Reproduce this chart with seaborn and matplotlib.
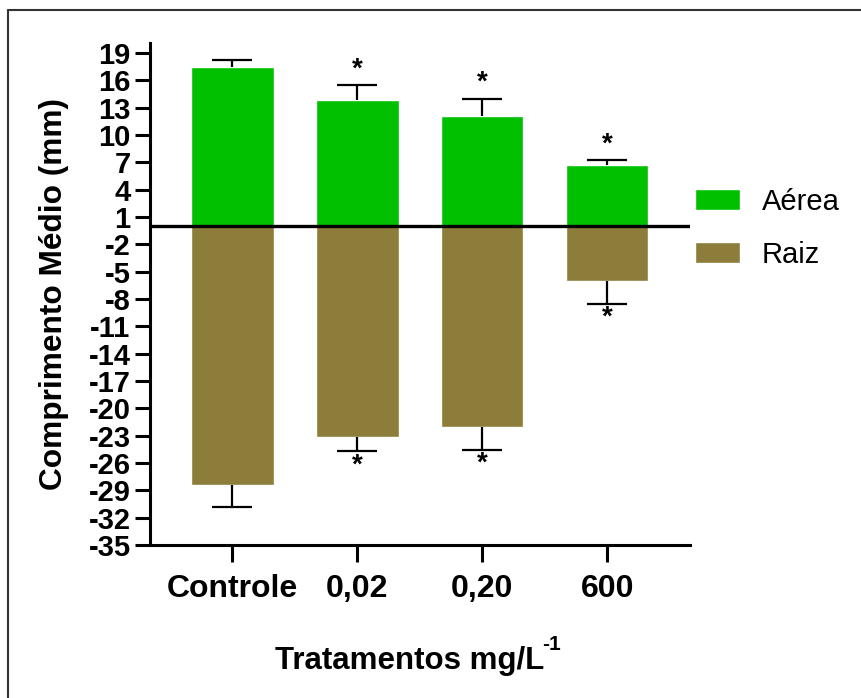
import numpy as np
import pandas as pd
import seaborn as sns
import matplotlib
matplotlib.use("Agg")
import matplotlib.pyplot as plt
from matplotlib.lines import Line2D
from matplotlib.patches import Patch

tratamentos = ["Controle", "0,02", "0,20", "600"]
aerea = [17.5, 13.9, 12.1, 6.75]
aerea_erro = [0.7, 1.6, 1.9, 0.5]
raiz = [-28.4, -23.15, -22.05, -6.0]
raiz_erro = [2.4, 1.55, 2.5, 2.5]
signif_aerea = ["", "*", "*", "*"]
signif_raiz = ["", "*", "*", "*"]

verde = "#00c000"
marrom = "#8c7d3a"

df = pd.DataFrame({
    "Tratamento": tratamentos * 2,
    "Valor": aerea + raiz,
    "Parte": ["Aérea"] * 4 + ["Raiz"] * 4,
})

sns.set_style("white")
plt.rcParams["font.family"] = ["Liberation Sans", "DejaVu Sans"]
plt.rcParams["text.color"] = "black"
plt.rcParams["axes.labelcolor"] = "black"
plt.rcParams["xtick.color"] = "black"
plt.rcParams["ytick.color"] = "black"

fig = plt.figure(figsize=(8.62, 6.98), dpi=100)
ax = fig.add_axes([0.174, 0.219, 0.626, 0.719])

sns.barplot(data=df, x="Tratamento", y="Valor", hue="Parte", order=tratamentos,
            palette={"Aérea": verde, "Raiz": marrom}, dodge=False, width=0.66,
            saturation=1, errorbar=None, legend=False, ax=ax)

# barras de erro só para fora
xs = np.arange(len(tratamentos))
topo = np.array(aerea) + np.array(aerea_erro)
fundo = np.array(raiz) - np.array(raiz_erro)
cap = 0.16
ax.vlines(xs, aerea, topo, color="black", lw=1.6, zorder=3)
ax.hlines(topo, xs - cap, xs + cap, color="black", lw=1.6, zorder=3)
ax.vlines(xs, raiz, fundo, color="black", lw=1.6, zorder=3)
ax.hlines(fundo, xs - cap, xs + cap, color="black", lw=1.6, zorder=3)

for i in range(4):
    if signif_aerea[i]:
        ax.text(xs[i], topo[i] + 0.3, signif_aerea[i], ha="center",
                va="bottom", fontsize=20, fontweight="bold")
    if signif_raiz[i]:
        ax.text(xs[i], fundo[i] - 0.1, signif_raiz[i], ha="center",
                va="top", fontsize=20, fontweight="bold")

ax.axhline(0, color="black", lw=2.4, zorder=4)

ax.set_xlim(-0.66, 3.66)
ax.set_ylim(-35, 20.07)
ax.set_yticks(np.arange(-35, 20, 3))
ax.set_yticklabels([str(v) for v in np.arange(-35, 20, 3)], fontsize=21, fontweight="bold")
ax.set_xticks(xs)
ax.set_xticklabels(tratamentos, fontsize=23, fontweight="bold")

for s in ["top", "right"]:
    ax.spines[s].set_visible(False)
for s in ["left", "bottom"]:
    ax.spines[s].set_linewidth(2.2)
    ax.spines[s].set_color("black")
ax.tick_params(axis="y", length=11, width=2.2, pad=3, left=True)
ax.tick_params(axis="x", length=12, width=2.2, pad=9, bottom=True)

ax.set_xlabel("Tratamentos mg/L", fontsize=22.5, fontweight="bold", labelpad=30)
ax.xaxis.label.set_x(0.5 - 10 / 540)
ax.set_ylabel("Comprimento Médio (mm)", fontsize=22.8, fontweight="bold", labelpad=14)

fig.canvas.draw()
bb = ax.xaxis.label.get_window_extent(fig.canvas.get_renderer())
fig.text((bb.x1 - 2) / 862, (698 - 650) / 698, "-1", fontsize=15, fontweight="bold",
         ha="left", va="baseline")

handles = [Patch(facecolor=verde, label="Aérea"), Patch(facecolor=marrom, label="Raiz")]
fig.legend(handles=handles, loc="center left", bbox_to_anchor=(0.806, 0.673), frameon=False,
           fontsize=21, handlelength=1.55, handleheight=0.7, labelspacing=0.85,
           handletextpad=0.75, borderpad=0, borderaxespad=0)

fig.add_artist(Line2D([8 / 862, 8 / 862], [0, 1 - 10 / 698], transform=fig.transFigure, color="#333333", lw=1.5))
fig.add_artist(Line2D([8 / 862, 1], [1 - 10 / 698, 1 - 10 / 698], transform=fig.transFigure, color="#333333", lw=1.5))

fig.savefig("out.png", dpi=100)
